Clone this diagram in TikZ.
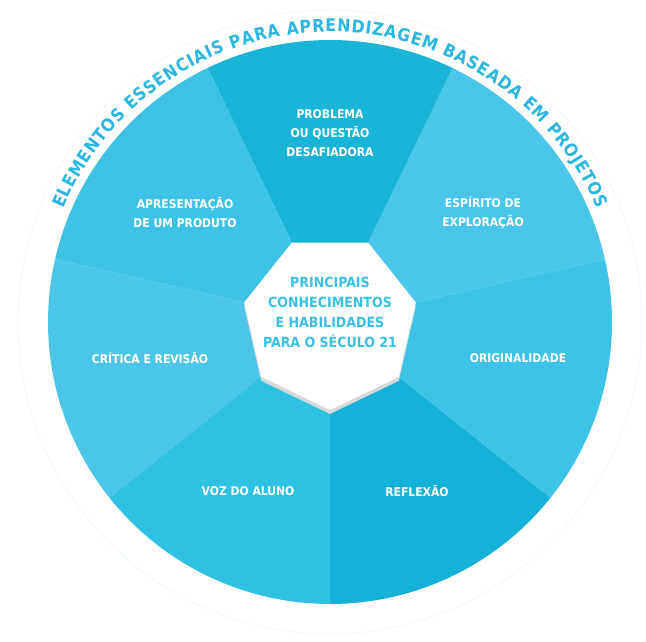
\documentclass[tikz,border=0pt]{standalone}
\usepackage{fontspec}
\setmainfont{DejaVu Sans Condensed}[BoldFont={DejaVu Sans Condensed Bold}]
\usetikzlibrary{decorations.text}

\definecolor{wedgeA}{HTML}{16B1D6}
\definecolor{wedgeB}{HTML}{3CC3E6}
\definecolor{wedgeC}{HTML}{49C6E8}
\definecolor{wedgeD}{HTML}{1AB4D7}
\definecolor{wedgeE}{HTML}{3EC3E7}
\definecolor{wedgeF}{HTML}{4BC6E9}
\definecolor{wedgeG}{HTML}{2FC1E1}
\definecolor{ringtext}{HTML}{29B6E0}
\definecolor{coretext}{HTML}{3AC0E6}
\definecolor{plateshadow}{HTML}{D6D9DB}

\begin{document}
\begin{tikzpicture}[x=1pt,y=1pt,
  wedge label/.style={text=white,align=center,font=\bfseries\fontsize{12}{19}\selectfont},
  core label/.style={text=coretext,align=center,font=\bfseries\fontsize{14}{20}\selectfont}]
\useasboundingbox (0,0) rectangle (646,642);
\coordinate (hub) at (330,320);

% seven wedges, starting at the bottom and going round
\foreach \col [count=\k from 0] in {wedgeA,wedgeB,wedgeC,wedgeD,wedgeE,wedgeF,wedgeG}
  \fill[\col] (hub) -- ([shift={(-90+\k*51.4286:282)}]hub)
    arc[start angle=-90+\k*51.4286, delta angle=51.4286, radius=282] -- cycle;

% faint outer ring
\draw[cyan!12, densely dotted, line width=1pt] (hub) circle[radius=312];

% white heptagon in the middle
\foreach \k in {0,...,6}
  \coordinate (v\k) at ([shift={(-90+\k*51.4286:88)}]hub);
\fill[plateshadow, transform canvas={yshift=-4pt}] (v0) -- (v1) -- (v2) -- (v3) -- (v4) -- (v5) -- (v6) -- cycle;
\fill[white] (v0) -- (v1) -- (v2) -- (v3) -- (v4) -- (v5) -- (v6) -- cycle;

\node[core label] (core) at (330,330) {PRINCIPAIS\\CONHECIMENTOS\\E HABILIDADES\\PARA O SÉCULO 21};

% wedge labels
\node[wedge label] (problema) at (330,509) {PROBLEMA\\OU QUESTÃO\\DESAFIADORA};
\node[wedge label] (espirito) at (483,429) {ESPÍRITO DE\\EXPLORAÇÃO};
\node[wedge label] (original) at (518,284) {ORIGINALIDADE};
\node[wedge label] (reflexao) at (417,151) {REFLEXÃO};
\node[wedge label] (voz) at (248,151) {VOZ DO ALUNO};
\node[wedge label] (critica) at (150,284) {CRÍTICA E REVISÃO};
\node[wedge label] (produto) at (185,429) {APRESENTAÇÃO\\DE UM PRODUTO};

% title bent round the top
\path[decorate, decoration={text along path, text align={fit to path},
    text color=ringtext,
    text={|\bfseries\fontsize{17.5}{17.5}\selectfont|ELEMENTOS ESSENCIAIS PARA APRENDIZAGEM BASEADA EM PROJETOS}}]
  ([shift={(157:290)}]hub) arc[start angle=157, end angle=23, radius=290];
\end{tikzpicture}
\end{document}
